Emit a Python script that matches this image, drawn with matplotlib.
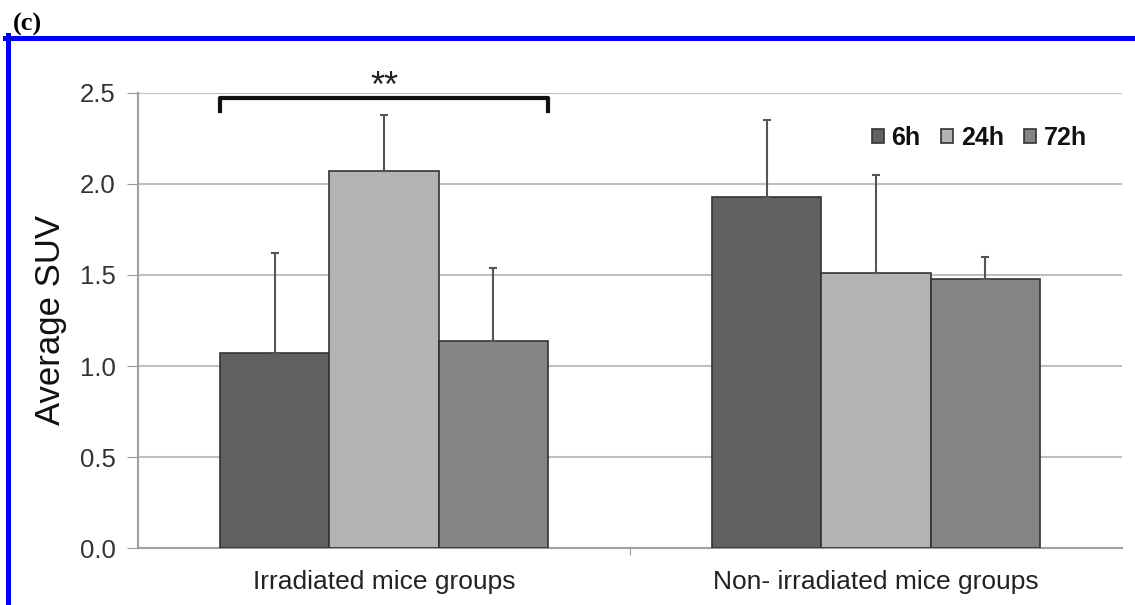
import numpy as np
import matplotlib.pyplot as plt
from matplotlib.lines import Line2D

groups = ['Irradiated mice groups', 'Non- irradiated mice groups']
times = ['6h', '24h', '72h']
suv_6h = [1.07, 1.93]
suv_24h = [2.07, 1.51]
suv_72h = [1.14, 1.48]
err_6h = [0.55, 0.42]
err_24h = [0.31, 0.54]
err_72h = [0.40, 0.12]
yticks = [0.0, 0.5, 1.0, 1.5, 2.0, 2.5]

colors = ['#616161', '#b3b3b3', '#858585']

plt.rcParams['font.family'] = ['Liberation Sans', 'DejaVu Sans']

fig = plt.figure(figsize=(11.35, 6.05), dpi=100)
ax = fig.add_axes([0.1216, 0.0942, 0.867, 0.7521])

w = 1 / 4.5
centers = np.arange(len(groups)) + 0.5
series = [(suv_6h, err_6h), (suv_24h, err_24h), (suv_72h, err_72h)]
for i, (vals, errs) in enumerate(series):
    xs = centers + (i - 1) * w
    ax.bar(xs, vals, width=w, color=colors[i], edgecolor='#333333',
           linewidth=1.2, label=times[i], zorder=3)
    ax.errorbar(xs, vals, yerr=[np.zeros(len(errs)), errs], fmt='none',
                ecolor='#555555', elinewidth=1.5, capsize=3, capthick=1.5,
                zorder=4)

ax.set_xlim(0, 2)
ax.set_ylim(0, 2.5)
ax.set_yticks(yticks)
ax.set_yticklabels([f'{t:.1f}' for t in yticks])
ax.yaxis.grid(True, color='#bfbfbf', linewidth=1.5, zorder=0)
ax.set_axisbelow(True)

# category labels sit between the boundary ticks
ax.set_xticks([1])
ax.set_xticklabels([''])
ax.set_xticks(centers, minor=True)
ax.set_xticklabels(groups, minor=True)
ax.tick_params(axis='x', which='minor', length=0, labelsize=19, pad=16,
               labelcolor='#222222')
ax.tick_params(axis='x', which='major', length=5, color='#999999')
ax.tick_params(axis='y', length=8, color='#999999', labelsize=18.5,
               labelcolor='#333333', pad=8)

for s in ['top', 'right']:
    ax.spines[s].set_visible(False)
for s in ['left', 'bottom']:
    ax.spines[s].set_color('#a0a0a0')
    ax.spines[s].set_linewidth(1.5)

ax.set_ylabel('Average SUV', fontsize=25, color='#111111', labelpad=9)

# significance bracket over the irradiated group
x0 = centers[0] - 1.5 * w
x1 = centers[0] + 1.5 * w
ax.plot([x0, x0, x1, x1], [2.40, 2.475, 2.475, 2.40], color='#111111',
        linewidth=3, clip_on=False, zorder=5)
ax.text(centers[0], 2.48, '**', ha='center', va='baseline', fontsize=26,
        color='#222222')

leg = ax.legend(loc='upper right', bbox_to_anchor=(0.987, 0.977), ncol=3,
                frameon=False, handlelength=0.5, handleheight=0.5,
                handletextpad=0.3, columnspacing=0.8,
                prop={'weight': 'bold', 'size': 18})
for t in leg.get_texts():
    t.set_color('#111111')

# blue panel frame
fig.add_artist(Line2D([5 / 1135, 1], [1 - 37.5 / 605] * 2, color='#0000ff',
                      linewidth=3.6, transform=fig.transFigure))
fig.add_artist(Line2D([7.5 / 1135] * 2, [0, 1 - 35 / 605], color='#0000ff',
                      linewidth=3.6, transform=fig.transFigure))

fig.text(13 / 1135, 1 - 31 / 605, '(c)', fontsize=19, fontweight='bold',
         family=['Liberation Serif', 'DejaVu Serif'], va='baseline')

fig.savefig('out.png', dpi=100)
